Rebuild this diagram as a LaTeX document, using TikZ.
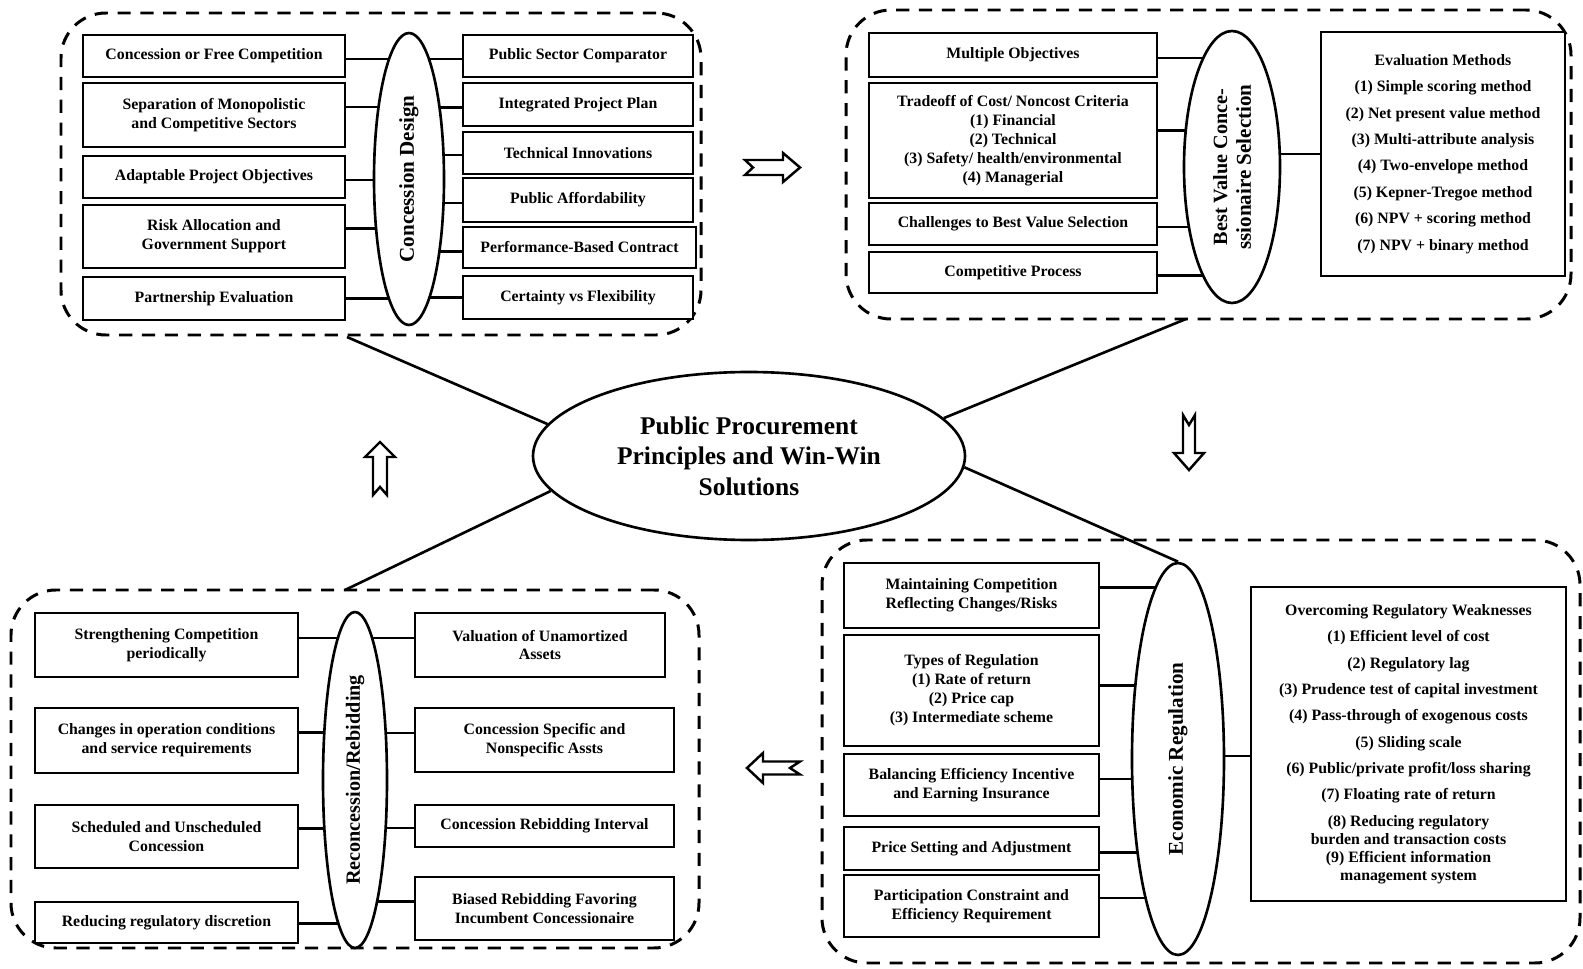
\documentclass[tikz,border=0pt]{standalone}
\usepackage{fontspec}
\setmainfont{Liberation Serif}
\usetikzlibrary{shapes.geometric,backgrounds}

\tikzset{
  box/.style={draw, line width=1.4pt, fill=white, align=center, inner sep=0pt,
    font=\bfseries\fontsize{9}{10.8}\selectfont},
  hub/.style={draw, ellipse, line width=1.5pt, fill=white, inner sep=0pt, align=center,
    font=\bfseries\fontsize{12}{13.5}\selectfont},
  grp/.style={draw, line width=1.7pt, dash pattern=on 7.5pt off 5.5pt,
    rounded corners=0.9cm, inner sep=0pt},
  link/.style={line width=1.3pt},
  spoke/.style={line width=1.5pt},
  blockarrow/.style={draw, line width=1.4pt, fill=white, line join=miter},
}

% box from its corners (x1,y1) to (x2,y2), in pixel units
\newcommand\bx[6]{\node[box, minimum width={(#4-#2)*0.02cm}, minimum height={(#5-#3)*0.02cm}]
  (#1) at ({(#2+#4)/2},{(#3+#5)/2}) {#6};}
% upright ellipse: name, centre x, centre y, half width, half height, label
\newcommand\hubnode[6]{\node[hub, rotate=90, minimum width={2*#5*0.02cm}, minimum height={2*#4*0.02cm}]
  (#1) at (#2,#3) {#6};}
% dashed group frame from its corners
\newcommand\grpnode[5]{\node[grp, minimum width={(#4-#2)*0.02cm}, minimum height={(#5-#3)*0.02cm}]
  (#1) at ({(#2+#4)/2},{(#3+#5)/2}) {};}
% horizontal links from a box side to an ellipse, with a vertical offset
\newcommand\linkR[3]{\draw[link] ([shift={(0,#3)}]#1.east) -- ([shift={(0,#3)}]#1.east -| #2.center);}
\newcommand\linkL[3]{\draw[link] ([shift={(0,#3)}]#1.west) -- ([shift={(0,#3)}]#1.west -| #2.center);}

\begin{document}
\begin{tikzpicture}[x=0.02cm, y=-0.02cm]
\path[use as bounding box] (0,0) rectangle (1583,969);

% ---------- group frames ----------
\grpnode{gTL}{61}{13}{701}{335}
\grpnode{gTR}{846}{10}{1571}{319}
\grpnode{gBR}{822}{540}{1580}{963}
\grpnode{gBL}{11}{590}{699}{948}

% ---------- concession design ----------
\bx{a1}{83}{35}{345}{77}{Concession or Free Competition}
\bx{a2}{83}{83}{345}{147}{Separation of Monopolistic\\and Competitive Sectors}
\bx{a3}{83}{156}{345}{198}{Adaptable Project Objectives}
\bx{a4}{83}{205}{345}{268}{Risk Allocation and\\Government Support}
\bx{a5}{83}{277}{345}{320}{Partnership Evaluation}
\hubnode{cd}{409}{179}{35}{146}{Concession Design}
\bx{b1}{463}{35}{693}{77}{Public Sector Comparator}
\bx{b2}{463}{83}{693}{126}{Integrated Project Plan}
\bx{b3}{463}{132}{693}{174}{Technical Innovations}
\bx{b4}{463}{178}{693}{222}{Public Affordability}
\bx{b5}{463}{227}{696}{268}{Performance-Based Contract}
\bx{b6}{463}{276}{693}{319}{Certainty vs Flexibility}

% ---------- best value selection ----------
\bx{c1}{869}{33}{1157}{77}{Multiple Objectives}
\bx{c2}{869}{83}{1157}{198}{Tradeoff of Cost/ Noncost Criteria\\(1) Financial\\(2) Technical\\(3) Safety/ health/environmental\\(4) Managerial}
\bx{c3}{869}{203}{1157}{245}{Challenges to Best Value Selection}
\bx{c4}{869}{252}{1157}{293}{Competitive Process}
\hubnode{bv}{1232}{167}{48}{136}{\fontsize{11.5}{13}\selectfont Best Value Conce-\\ssionaire Selection}
\node[box, font=\bfseries\fontsize{9}{15}\selectfont, minimum width={244*0.02cm}, minimum height={244*0.02cm}]
  (ev) at (1443,154) {Evaluation Methods\\(1) Simple scoring method\\(2) Net present value method\\(3) Multi-attribute analysis\\(4) Two-envelope method\\(5) Kepner-Tregoe method\\(6) NPV + scoring method\\(7) NPV + binary method};

% ---------- economic regulation ----------
\bx{d1}{844}{563}{1099}{628}{Maintaining Competition\\Reflecting Changes/Risks}
\bx{d2}{844}{635}{1099}{746}{Types of Regulation\\(1) Rate of return\\(2) Price cap\\(3) Intermediate scheme}
\bx{d3}{844}{754}{1099}{816}{Balancing Efficiency Incentive\\and Earning Insurance}
\bx{d4}{844}{827}{1099}{870}{Price Setting and Adjustment}
\bx{d5}{844}{875}{1099}{937}{Participation Constraint and\\Efficiency Requirement}
\hubnode{er}{1178}{759}{46}{196}{Economic Regulation}
\node[box, font=\bfseries\fontsize{9}{10.2}\selectfont, minimum width={315*0.02cm}, minimum height={314*0.02cm}]
  (ov) at (1408.5,744) {Overcoming Regulatory Weaknesses\\[4.8pt]
  (1) Efficient level of cost\\[4.8pt]
  (2) Regulatory lag\\[4.8pt]
  (3) Prudence test of capital investment\\[4.8pt]
  (4) Pass-through of exogenous costs\\[4.8pt]
  (5) Sliding scale\\[4.8pt]
  (6) Public/private profit/loss sharing\\[4.8pt]
  (7) Floating rate of return\\[4.8pt]
  (8) Reducing regulatory\\burden and transaction costs\\
  (9) Efficient information\\management system};

% ---------- reconcession ----------
\bx{e1}{35}{613}{298}{677}{Strengthening Competition\\periodically}
\bx{e2}{35}{708}{298}{773}{Changes in operation conditions\\and service requirements}
\bx{e3}{35}{805}{298}{868}{Scheduled and Unscheduled\\Concession}
\bx{e4}{35}{902}{298}{943}{Reducing regulatory discretion}
\hubnode{rb}{355}{780}{32}{168}{\fontsize{11.5}{13}\selectfont Reconcession/Rebidding}
\bx{f1}{415}{613}{665}{677}{Valuation of Unamortized\\Assets}
\bx{f2}{415}{708}{674}{772}{Concession Specific and\\Nonspecific Assts}
\bx{f3}{415}{805}{674}{847}{Concession Rebidding Interval}
\bx{f4}{415}{877}{674}{940}{Biased Rebidding Favoring\\Incumbent Concessionaire}

% ---------- central topic ----------
\node[hub, font=\bfseries\fontsize{14.5}{17.3}\selectfont, minimum width={432*0.02cm}, minimum height={168*0.02cm}]
  (pp) at (749,456) {Public Procurement\\Principles and Win-Win\\Solutions};

% ---------- links between boxes and ellipses ----------
\begin{scope}[on background layer]
\linkR{a1}{cd}{3} \linkR{a2}{cd}{-8} \linkR{a3}{cd}{3} \linkR{a4}{cd}{-8} \linkR{a5}{cd}{0}
\linkL{b1}{cd}{3} \linkL{b2}{cd}{3} \linkL{b3}{cd}{2} \linkL{b4}{cd}{3} \linkL{b5}{cd}{4} \linkL{b6}{cd}{0}
\linkR{c1}{bv}{3} \linkR{c2}{bv}{-10} \linkR{c3}{bv}{3} \linkR{c4}{bv}{3}
\linkL{ev}{bv}{0}
\linkR{d1}{er}{-8} \linkR{d2}{er}{-5} \linkR{d3}{er}{-6} \linkR{d4}{er}{4} \linkR{d5}{er}{-8}
\linkL{ov}{er}{12}
\linkR{e1}{rb}{-7} \linkR{e2}{rb}{-8} \linkR{e3}{rb}{-8} \linkR{e4}{rb}{1}
\linkL{f1}{rb}{-7} \linkL{f2}{rb}{-7} \linkL{f3}{rb}{2} \linkL{f4}{rb}{-7}
\end{scope}

% ---------- spokes from the central topic ----------
\coordinate (tlEnd) at (347,337);
\coordinate (trEnd) at (1186,319);
\coordinate (blEnd) at (345,590);
\draw[spoke] (pp.171) -- (tlEnd);
\draw[spoke] (pp.11) -- (trEnd);
\draw[spoke] (pp.190) -- (blEnd);
\draw[spoke] (pp.357) -- (er.east);

% ---------- notched block arrows (cycle direction) ----------
\draw[blockarrow] (745,160) -- (783,160) -- (783,153) -- (800,167.5) -- (783,182) -- (783,175) -- (745,175) -- (753,167.5) -- cycle;
\draw[blockarrow] (1183,415) -- (1183,453) -- (1174,453) -- (1189,470) -- (1204,453) -- (1195,453) -- (1195,415) -- (1189,425) -- cycle;
\draw[blockarrow] (800,761.5) -- (763,761.5) -- (763,753) -- (747,768) -- (763,783) -- (763,774.5) -- (800,774.5) -- (790,768) -- cycle;
\draw[blockarrow] (373,495) -- (373,457) -- (365,457) -- (380,442) -- (395,457) -- (387,457) -- (387,495) -- (380,487) -- cycle;
\end{tikzpicture}
\end{document}
